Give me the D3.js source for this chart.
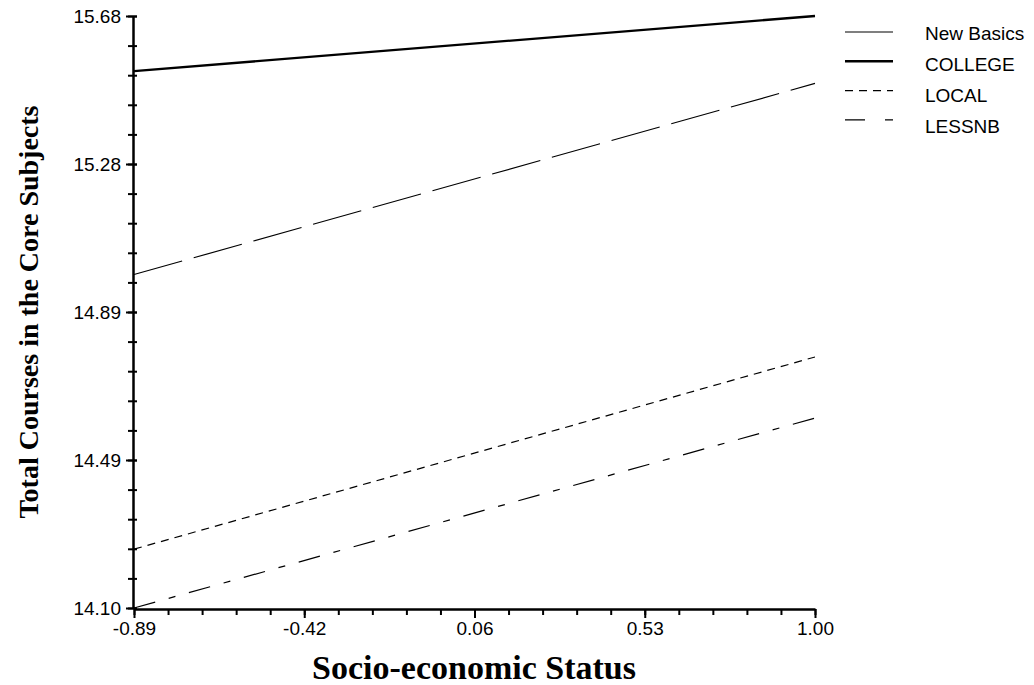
<!DOCTYPE html>
<html>
<head>
<meta charset="utf-8">
<script src="https://cdn.jsdelivr.net/npm/d3@7"></script>
<style>
  html, body { margin: 0; padding: 0; background: #fff; }
  #chart { width: 1034px; height: 685px; }
  .tick text { font-family: "Liberation Sans", Arial, sans-serif; font-size: 19px; fill: #000; }
  .title { font-family: "Liberation Serif", "Times New Roman", serif; font-weight: bold; font-size: 28px; fill: #000; }
  .title.x { font-size: 34px; }
  .legend text { font-family: "Liberation Sans", Arial, sans-serif; font-size: 19px; fill: #000; }
</style>
</head>
<body>
<div id="chart"></div>
<script>
const container = document.getElementById("chart");

// Values
const xDomain = [-0.89, 1.0];
const yDomain = [14.1, 15.68];
const xTickLabels = ["-0.89", "-0.42", "0.06", "0.53", "1.00"];
const yTickLabels = ["14.10", "14.49", "14.89", "15.28", "15.68"];

const seriesNames = ["New Basics", "COLLEGE", "LOCAL", "LESSNB"];
const seriesX = [-0.89, 1.0];
const newBasics = [14.99, 15.5];
const college = [15.533, 15.68];
const local = [14.257, 14.77];
const lessnb = [14.1, 14.607];

// line styles (kept separate from the data)
const styles = {
  "New Basics": { width: 1.2, dash: "50,12", legendDash: null },
  COLLEGE: { width: 2.4, dash: null, legendDash: null },
  LOCAL: { width: 1.2, dash: "8,6", legendDash: "8,6" },
  LESSNB: { width: 1.2, dash: "22,14,7,14", legendDash: "20,20,8,20" },
};

const W = 1034;
const H = 685;
const svg = d3
  .select(container)
  .append("svg")
  .attr("width", W)
  .attr("height", H)
  .attr("viewBox", `0 0 ${W} ${H}`);

const x = d3.scaleLinear().domain(xDomain).range([134, 815]);
const y = d3.scaleLinear().domain(yDomain).range([608, 16]);

function evenSteps(domain, n) {
  return d3.range(n + 1).map((i) => domain[0] + (i * (domain[1] - domain[0])) / n);
}

const xMajor = evenSteps(xDomain, 4);
const xMinor = evenSteps(xDomain, 20);
const yMajor = evenSteps(yDomain, 4);
const yMinor = evenSteps(yDomain, 20);

// minor ticks first
const xMinorAxis = d3.axisBottom(x).tickValues(xMinor).tickSize(6).tickFormat("");
svg.append("g").attr("transform", "translate(0,609)").call(xMinorAxis)
  .call((g) => g.select(".domain").remove())
  .call((g) => g.selectAll("line").attr("stroke-width", 2));

const yMinorAxis = d3.axisLeft(y).tickValues(yMinor).tickSize(5).tickFormat("");
svg.append("g").attr("transform", "translate(133,0)").call(yMinorAxis)
  .call((g) => g.select(".domain").remove())
  .call((g) => g.selectAll("line").attr("x1", 4).attr("stroke-width", 2));

const xAxis = d3
  .axisBottom(x)
  .tickValues(xMajor)
  .tickSizeInner(9)
  .tickSizeOuter(0)
  .tickPadding(4)
  .tickFormat((d, i) => xTickLabels[i]);
svg.append("g").attr("transform", "translate(0,609)").call(xAxis)
  .call((g) => g.select(".domain").attr("stroke-width", 2.5))
  .call((g) => g.selectAll("line").attr("stroke-width", 2));

const yAxis = d3
  .axisLeft(y)
  .tickValues(yMajor)
  .tickSizeInner(7)
  .tickSizeOuter(0)
  .tickPadding(5)
  .tickFormat((d, i) => yTickLabels[i]);
svg.append("g").attr("transform", "translate(133,0)").call(yAxis)
  .call((g) => g.select(".domain").attr("stroke-width", 2.5))
  .call((g) => g.selectAll("line").attr("x1", 4).attr("stroke-width", 2));

// series lines
const seriesValues = [newBasics, college, local, lessnb];
const line = d3
  .line()
  .x((d) => x(d[0]))
  .y((d) => y(d[1]));

seriesNames.forEach((name, i) => {
  const pts = seriesX.map((xv, j) => [xv, seriesValues[i][j]]);
  const st = styles[name];
  svg
    .append("path")
    .datum(pts)
    .attr("d", line)
    .attr("fill", "none")
    .attr("stroke", "#000")
    .attr("stroke-width", st.width)
    .attr("stroke-dasharray", st.dash);
});

// legend
const legend = svg.append("g").attr("class", "legend");
seriesNames.forEach((name, i) => {
  const st = styles[name];
  const ly = 32 + i * 29.3;
  legend
    .append("line")
    .attr("x1", 845)
    .attr("x2", 893)
    .attr("y1", ly)
    .attr("y2", ly)
    .attr("stroke", "#000")
    .attr("stroke-width", st.width)
    .attr("stroke-dasharray", st.legendDash);
  legend
    .append("text")
    .attr("x", 925)
    .attr("y", 33 + i * 31)
    .attr("dy", "0.35em")
    .text(name);
});

// axis titles
svg
  .append("text")
  .attr("class", "title x")
  .attr("x", 474)
  .attr("y", 679)
  .attr("text-anchor", "middle")
  .text("Socio-economic Status");

svg
  .append("text")
  .attr("class", "title")
  .attr("transform", "translate(38,312) rotate(-90)")
  .attr("text-anchor", "middle")
  .text("Total Courses in the Core Subjects");
</script>
</body>
</html>
